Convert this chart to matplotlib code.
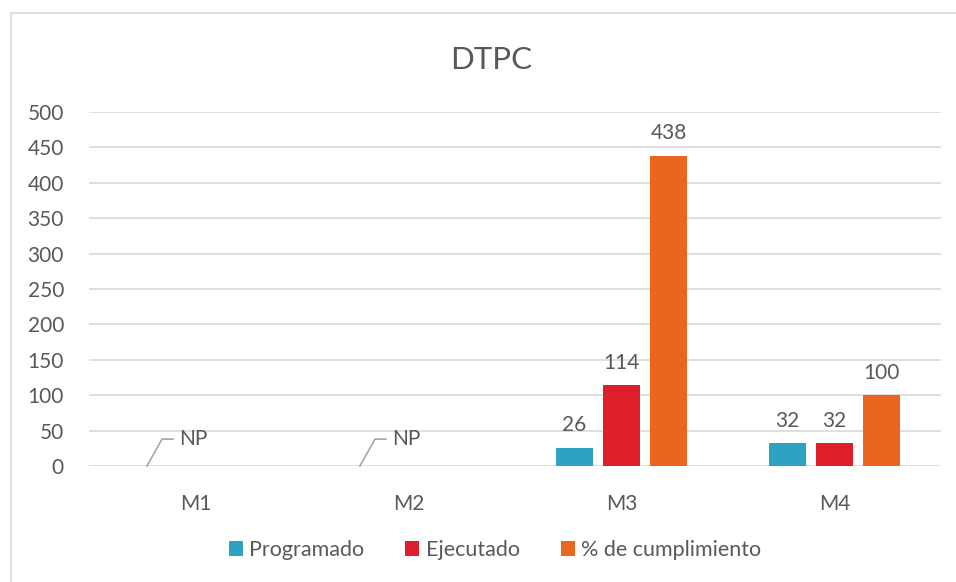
import matplotlib.pyplot as plt
import numpy as np
from matplotlib.patches import Rectangle

plt.rcParams['font.family'] = ['Lato', 'DejaVu Sans']

categories = ['M1', 'M2', 'M3', 'M4']
series_names = ['Programado', 'Ejecutado', '% de cumplimiento']
programado = [np.nan, np.nan, 26, 32]
ejecutado = [np.nan, np.nan, 114, 32]
cumplimiento = [np.nan, np.nan, 438, 100]
np_labels = ['NP', 'NP', '', '']
colors = ['#2ea3c1', '#dc1f2b', '#e9661e']
text_col = '#595959'
grid_col = '#d9d9d9'

fig = plt.figure(figsize=(9.56, 5.82), dpi=100)
ax = fig.add_axes([89 / 956, 116 / 582, 852 / 956, 354 / 582])

# chart border (only top/left visible in the crop)
fig.patches.append(Rectangle((11 / 956, -0.1), 1.2, (582 - 13) / 582 + 0.1,
                             transform=fig.transFigure, fill=False,
                             edgecolor=grid_col, linewidth=1.2))

x = np.arange(len(categories))
width = 0.175
offsets = [-0.222, 0, 0.222]
for vals, name, col, off in zip([programado, ejecutado, cumplimiento],
                                series_names, colors, offsets):
    bars = ax.bar(x + off, vals, width, color=col, label=name, zorder=3)
    for xi, v in zip(x + off, vals):
        if not np.isnan(v):
            ax.annotate(f'{v:g}', (xi, v), xytext=(0, 9), textcoords='offset points',
                        ha='center', va='bottom', fontsize=15, color=text_col)

# NP labels with leader lines
for i, lab in enumerate(np_labels):
    if lab:
        ax.plot([i - 0.228, i - 0.157, i - 0.106], [0, 38, 38],
                color='#a6a6a6', lw=1.2, zorder=4, clip_on=False)
        ax.text(i - 0.075, 38, lab, ha='left', va='center',
                fontsize=15, color=text_col)

ax.set_xlim(-0.5, 3.5)
ax.set_ylim(0, 500)
ax.set_yticks(np.arange(0, 501, 50))
ax.set_xticks(x)
ax.set_xticklabels(categories)
ax.yaxis.grid(True, color=grid_col, lw=1.2, zorder=0)
ax.set_axisbelow(True)
for s in ax.spines.values():
    s.set_visible(False)
ax.tick_params(axis='y', length=0, pad=18, labelsize=15, labelcolor=text_col)
ax.tick_params(axis='x', length=0, pad=20, labelsize=15, labelcolor=text_col)

fig.text(491 / 956, 1 - 60 / 582, 'DTPC', ha='center', va='center',
         fontsize=22.5, color=text_col)

leg = fig.legend(loc='center', bbox_to_anchor=(495 / 956, 1 - 550 / 582),
                 ncol=3, frameon=False, fontsize=15.5, handlelength=0.65,
                 handleheight=0.65, handletextpad=0.3, columnspacing=1.9)
for t in leg.get_texts():
    t.set_color(text_col)

fig.savefig('out.png', dpi=100)
